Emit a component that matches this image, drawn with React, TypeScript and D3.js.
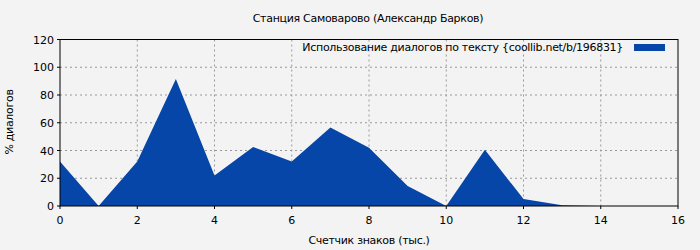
import React from "react";
import * as d3 from "d3";

const xValues = [0, 1, 2, 3, 4, 5, 6, 7, 8, 9, 10, 11, 12, 13, 14, 15, 16];
const yValues = [32, 0, 32, 91.5, 22, 42.5, 32, 56.5, 42, 14.5, 0, 40.5, 5, 0.5, 0, 0, 0];
const xTicks = [0, 2, 4, 6, 8, 10, 12, 14, 16];
const yTicks = [0, 20, 40, 60, 80, 100, 120];
const title = "Станция Самоварово (Александр Барков)";
const xLabel = "Счетчик знаков (тыс.)";
const yLabel = "% диалогов";
const legendLabel = "Использование диалогов по тексту {coollib.net/b/196831}";

export default function App() {
  const W = 700, H = 250;
  const L = 60, R = 678, T = 39.5, B = 206;
  const x = d3.scaleLinear().domain([0, 16]).range([L, R]);
  const y = d3.scaleLinear().domain([0, 120]).range([B, T]);
  const area = d3.area<number>()
    .x((_, i) => x(xValues[i]))
    .y0(y(0))
    .y1((d) => y(d));
  const font = "DejaVu Sans, sans-serif";
  const ls = -0.3;
  return (
    <svg width={W} height={H} style={{ position: "absolute", left: 0, top: 0 }} fontFamily={font}>
      <rect x={0} y={0} width={W} height={H} fill="#f3f3f3" />
      <text x={368} y={22} textAnchor="middle" fontSize={11} letterSpacing={ls} fill="#000">{title}</text>
      {xTicks.slice(1, -1).map((t) => (
        <line key={"gx" + t} x1={x(t)} x2={x(t)} y1={T} y2={B} stroke="#999" strokeDasharray="2,3" />
      ))}
      {yTicks.slice(1, -1).map((t) => (
        <line key={"gy" + t} x1={L} x2={R} y1={y(t)} y2={y(t)} stroke="#999" strokeDasharray="2,3" />
      ))}
      <path d={area(yValues) || ""} fill="#0646a8" />
      <rect x={L} y={T} width={R - L} height={B - T} fill="none" stroke="#000" strokeWidth={1} />
      {yTicks.map((t) => (
        <g key={"ty" + t}>
          <line x1={L - 3} x2={L} y1={y(t)} y2={y(t)} stroke="#000" />
          <text x={L - 6} y={y(t) + 4} textAnchor="end" fontSize={11}>{t}</text>
        </g>
      ))}
      {xTicks.map((t) => (
        <g key={"tx" + t}>
          <line x1={x(t)} x2={x(t)} y1={B} y2={B + 3} stroke="#000" />
          <text x={x(t)} y={B + 18} textAnchor="middle" fontSize={11}>{t}</text>
        </g>
      ))}
      <text x={369} y={244} textAnchor="middle" fontSize={11} letterSpacing={ls}>{xLabel}</text>
      <text transform={`translate(13,122) rotate(-90)`} textAnchor="middle" fontSize={11} letterSpacing={ls}>{yLabel}</text>
      <text x={623} y={51} textAnchor="end" fontSize={11} letterSpacing={ls}>{legendLabel}</text>
      <rect x={634} y={44} width={31} height={7} fill="#0646a8" />
    </svg>
  );
}
